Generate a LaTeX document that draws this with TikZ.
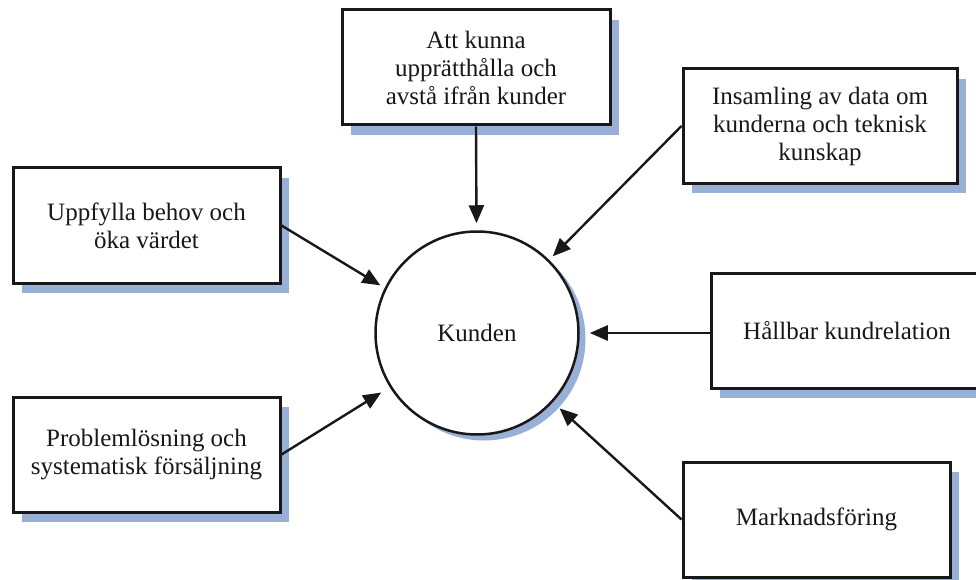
\documentclass[tikz,border=0pt]{standalone}
\usepackage{fontspec}
\setmainfont{Liberation Serif}
\usetikzlibrary{arrows.meta,shadows}
\definecolor{shblue}{RGB}{152,176,214}
\definecolor{ink}{RGB}{24,24,24}
\begin{document}
\begin{tikzpicture}[x=1pt,y=-1pt,
  box/.style={draw=ink, line width=3pt, fill=white, align=center,
    inner sep=0pt, minimum width=267pt, minimum height=115pt,
    font=\fontsize{25}{28}\selectfont, text=ink,
    drop shadow={shadow xshift=9pt, shadow yshift=-10pt, fill=shblue, opacity=1}},
  hub/.style={circle, draw=ink, line width=2.5pt, fill=white, minimum size=203pt,
    inner sep=0pt, font=\fontsize{25}{28}\selectfont, text=ink,
    drop shadow={shadow xshift=7pt, shadow yshift=-6pt, fill=shblue, opacity=1}},
  arr/.style={draw=ink, line width=2.4pt, -{Triangle[length=18pt,width=15pt]}}
]
\useasboundingbox (0,0) rectangle (976,580);
\clip (0,0) rectangle (976,580);
\node[box, minimum width=268pt] (top) at (476,67.5) {Att kunna\\upprätthålla och\\avstå ifrån kunder};
\node[box] (l1) at (146.5,225.5) {Uppfylla behov och\\öka värdet};
\node[box] (l2) at (146.5,454.5) {Problemlösning och\\systematisk försäljning};
\node[box, minimum width=274pt, minimum height=114pt] (r1) at (820,126) {Insamling av data om\\kunderna och teknisk\\kunskap};
\node[box, minimum width=272pt] (r2) at (847,330.5) {Hållbar kundrelation};
\node[box] (r3) at (816.5,519.5) {Marknadsföring};
\node[hub] (k) at (477,333) {Kunden};
\draw[arr, shorten >=7pt] (top.south) -- (k);
\draw[arr, shorten >=5pt] (l1.east) -- (k.154);
\draw[arr, shorten >=10pt] (l2.east) -- (k);
\draw[arr, shorten >=5pt] (r1.west) -- (k);
\draw[arr, shorten >=10pt] (r2.west |- k.east) -- (k);
\draw[arr, shorten >=9pt] (r3.west) -- (k);
\end{tikzpicture}
\end{document}
